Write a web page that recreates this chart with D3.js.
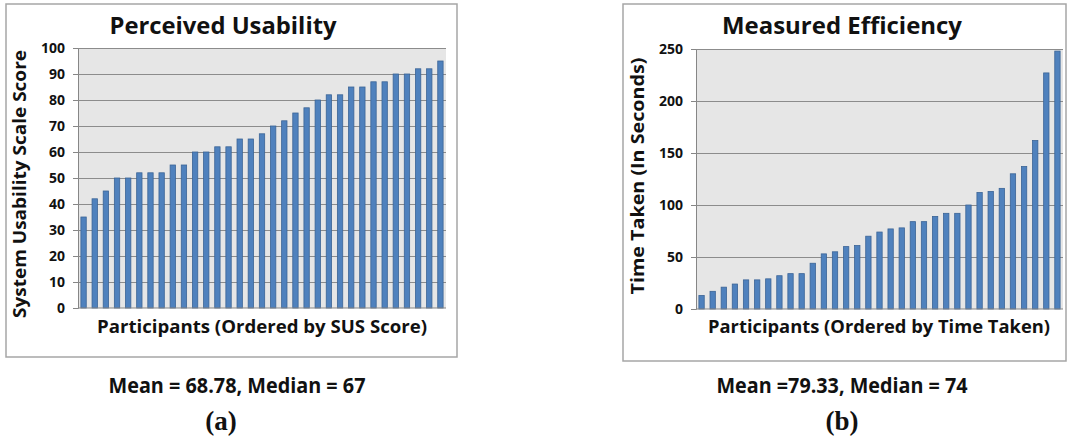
<!DOCTYPE html>
<html>
<head>
<meta charset="utf-8">
<script src="https://cdn.jsdelivr.net/npm/d3@7"></script>
<style>
  body { margin: 0; background: #fff; }
  svg text { font-family: "Open Sans", Lato, sans-serif; font-weight: 700; fill: #111; }
  .caption { font-family: "Liberation Sans Narrow", "Open Sans", sans-serif; }
  .panel-tag { font-family: "Liberation Serif", "DejaVu Serif", serif; }
</style>
</head>
<body>
<div id="chart"></div>
<script>
// SUS scores, sorted ascending (one bar per participant)
const susScores = [35, 42, 45, 50, 50, 52, 52, 52, 55, 55, 60, 60, 62, 62, 65, 65, 67,
  70, 72, 75, 77, 80, 82, 82, 85, 85, 87, 87, 90, 90, 92, 92, 95];
const susTicks = [0, 10, 20, 30, 40, 50, 60, 70, 80, 90, 100];

// time taken in seconds, sorted ascending
const timeTaken = [13, 17, 21, 24, 28, 28, 29, 32, 34, 34, 44, 53, 55, 60, 61, 70, 74,
  77, 78, 84, 84, 89, 92, 92, 100, 112, 113, 116, 130, 137, 162, 227, 248];
const timeTicks = [0, 50, 100, 150, 200, 250];

const titles = ['Perceived Usability', 'Measured Efficiency'];
const yTitles = ['System Usability Scale Score', 'Time Taken (In Seconds)'];
const xTitles = ['Participants (Ordered by SUS Score)', 'Participants (Ordered by Time Taken)'];
const captions = ['Mean = 68.78, Median = 67', 'Mean =79.33, Median = 74'];
const tags = ['(a)', '(b)'];

const W = 1070, H = 440;
const svg = d3.select('#chart').append('svg')
  .attr('width', W)
  .attr('height', H);

// squeeze/stretch a text to the width it has in the original figure
function fit(sel, width) {
  sel.attr('textLength', width).attr('lengthAdjust', 'spacingAndGlyphs');
}

const panels = [
  { values: susScores, ticks: susTicks, max: 100,
    frame: { x: 6, y: 4, w: 451, h: 353 },
    plot: { x: 78, y: 48, w: 368, h: 260 },
    title: { x: 223, w: 227 }, yTitle: { x: 26, y: 184, w: 268 },
    xTitle: { x: 262, w: 330 }, caption: { x: 237, w: 257 }, tagX: 221 },
  { values: timeTaken, ticks: timeTicks, max: 250,
    frame: { x: 623, y: 4, w: 443, h: 357 },
    plot: { x: 696, y: 49, w: 367, h: 260 },
    title: { x: 842, w: 240 }, yTitle: { x: 644, y: 176, w: 237 },
    xTitle: { x: 879, w: 342 }, caption: { x: 842, w: 251 }, tagX: 842 }
];

panels.forEach((p, i) => {
  const g = svg.append('g');

  // outer chart frame
  g.append('rect')
    .attr('x', p.frame.x).attr('y', p.frame.y)
    .attr('width', p.frame.w).attr('height', p.frame.h)
    .attr('fill', '#fff')
    .attr('stroke', '#a6a6a6')
    .attr('stroke-width', 1.5);

  const x = d3.scaleBand()
    .domain(d3.range(p.values.length))
    .range([p.plot.x, p.plot.x + p.plot.w])
    .paddingInner(0.52)
    .paddingOuter(0.26);

  const y = d3.scaleLinear()
    .domain([0, p.max])
    .range([p.plot.y + p.plot.h, p.plot.y]);

  // plot area background
  g.append('rect')
    .attr('x', p.plot.x).attr('y', p.plot.y)
    .attr('width', p.plot.w).attr('height', p.plot.h)
    .attr('fill', '#e6e6e6');

  // y axis with gridlines
  const yAxis = g.append('g')
    .attr('transform', `translate(${p.plot.x},0)`)
    .call(d3.axisLeft(y).tickValues(p.ticks).tickSize(5).tickPadding(8));
  yAxis.select('.domain').attr('stroke', '#868686');
  yAxis.selectAll('.tick line').attr('stroke', '#868686');
  yAxis.selectAll('.tick text')
    .style('font-size', '14px')
    .attr('fill', '#111');
  yAxis.selectAll('.tick').filter(d => d > 0)
    .append('line')
    .attr('x1', 0).attr('x2', p.plot.w)
    .attr('stroke', '#8c8c8c')
    .attr('stroke-width', 1);

  // bars
  g.append('g')
    .selectAll('rect')
    .data(p.values)
    .join('rect')
    .attr('x', (d, j) => x(j))
    .attr('y', d => y(d))
    .attr('width', x.bandwidth())
    .attr('height', d => y(0) - y(d))
    .attr('fill', '#4f81bd')
    .attr('stroke', '#3b6496')
    .attr('stroke-width', 0.8);

  // x axis baseline
  g.append('line')
    .attr('x1', p.plot.x).attr('x2', p.plot.x + p.plot.w)
    .attr('y1', y(0)).attr('y2', y(0))
    .attr('stroke', '#868686');

  // chart title
  g.append('text')
    .attr('x', p.title.x)
    .attr('y', 34)
    .attr('text-anchor', 'middle')
    .style('font-size', '24px')
    .text(titles[i])
    .call(fit, p.title.w);

  // axis titles
  g.append('text')
    .attr('transform', `translate(${p.yTitle.x},${p.yTitle.y}) rotate(-90)`)
    .attr('text-anchor', 'middle')
    .style('font-size', '17px')
    .text(yTitles[i])
    .call(fit, p.yTitle.w);

  g.append('text')
    .attr('x', p.xTitle.x)
    .attr('y', 333)
    .attr('text-anchor', 'middle')
    .style('font-size', '18px')
    .text(xTitles[i])
    .call(fit, p.xTitle.w);

  // captions below the panel
  svg.append('text')
    .attr('class', 'caption')
    .attr('x', p.caption.x)
    .attr('y', 393)
    .attr('text-anchor', 'middle')
    .style('font-size', '21px')
    .text(captions[i])
    .call(fit, p.caption.w);

  svg.append('text')
    .attr('class', 'panel-tag')
    .attr('x', p.tagX)
    .attr('y', 430)
    .attr('text-anchor', 'middle')
    .style('font-size', '27px')
    .text(tags[i]);
});
</script>
</body>
</html>
